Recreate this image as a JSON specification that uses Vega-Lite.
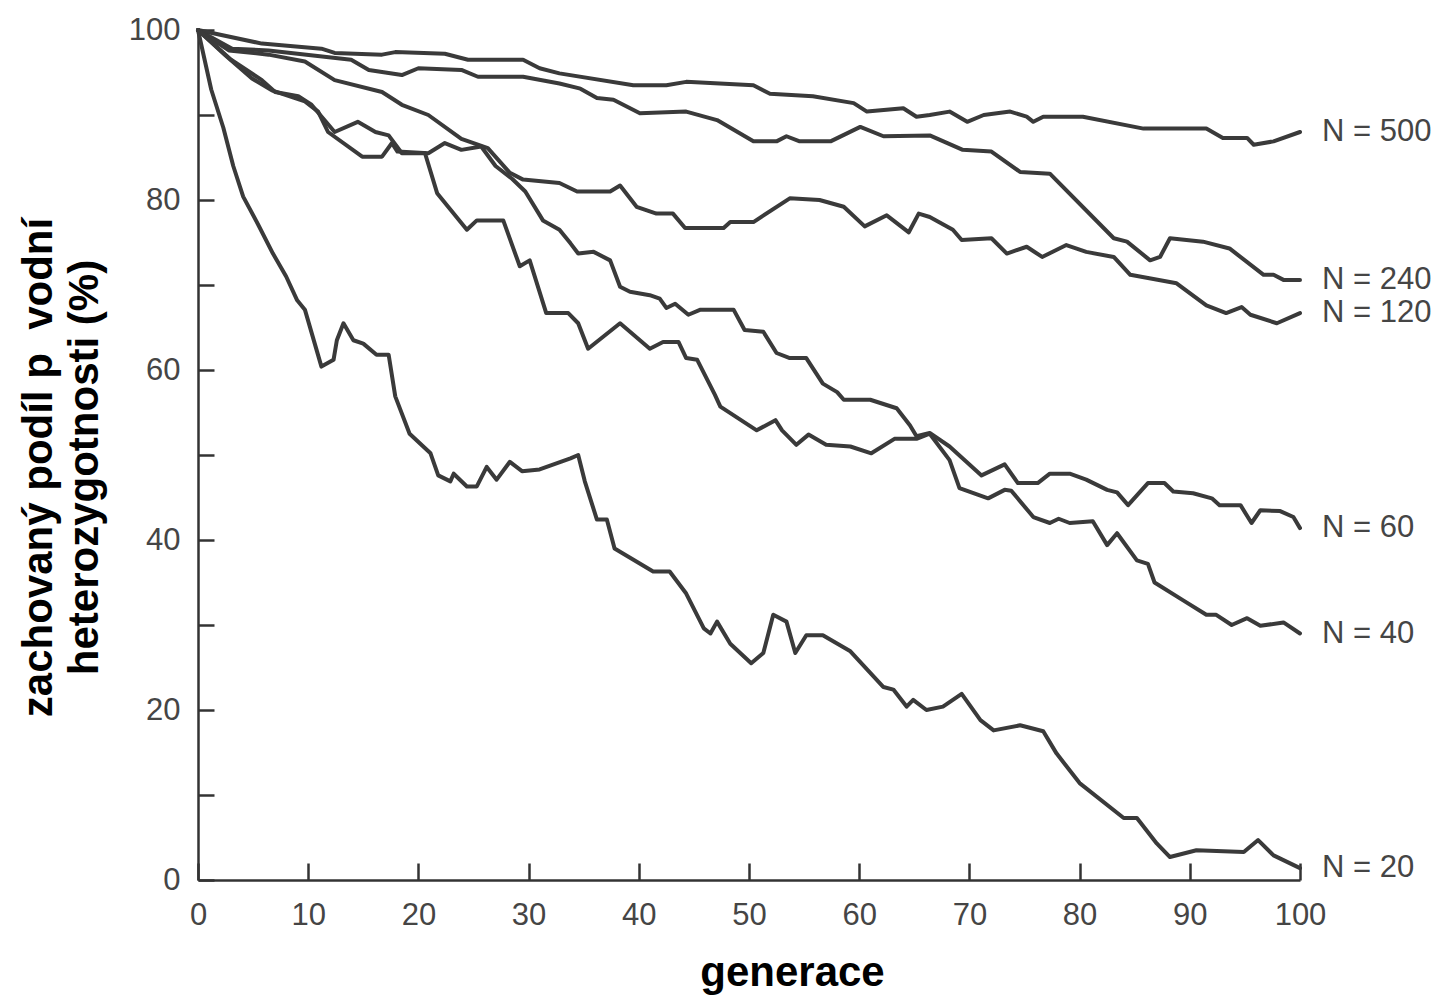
{
  "$schema": "https://vega.github.io/schema/vega-lite/v6.json",
  "autosize": {"type": "none"},
  "width": 1102,
  "height": 850,
  "padding": {"left": 198, "top": 30, "right": 152, "bottom": 117},
  "background": "#ffffff",
  "config": {"view": {"stroke": null}},
  "data": {"values": [
    {"N":"N = 500","gen":0,"het":100},{"N":"N = 500","gen":5.8,"het":98.4},{"N":"N = 500","gen":11.2,"het":97.8},{"N":"N = 500","gen":12.4,"het":97.3},{"N":"N = 500","gen":16.7,"het":97.1},{"N":"N = 500","gen":17.9,"het":97.4},{"N":"N = 500","gen":22.4,"het":97.2},{"N":"N = 500","gen":24.5,"het":96.5},{"N":"N = 500","gen":29.5,"het":96.5},{"N":"N = 500","gen":31,"het":95.5},{"N":"N = 500","gen":32.8,"het":94.9},{"N":"N = 500","gen":39.5,"het":93.5},{"N":"N = 500","gen":42.5,"het":93.5},{"N":"N = 500","gen":44.3,"het":93.9},{"N":"N = 500","gen":50.4,"het":93.5},{"N":"N = 500","gen":51.9,"het":92.5},{"N":"N = 500","gen":55.8,"het":92.2},{"N":"N = 500","gen":59.5,"het":91.4},{"N":"N = 500","gen":60.7,"het":90.4},{"N":"N = 500","gen":64,"het":90.8},{"N":"N = 500","gen":65.2,"het":89.8},{"N":"N = 500","gen":66.4,"het":90},{"N":"N = 500","gen":68.2,"het":90.4},{"N":"N = 500","gen":69.8,"het":89.2},{"N":"N = 500","gen":71.3,"het":90},{"N":"N = 500","gen":73.7,"het":90.4},{"N":"N = 500","gen":75.2,"het":89.8},{"N":"N = 500","gen":75.8,"het":89.2},{"N":"N = 500","gen":76.7,"het":89.8},{"N":"N = 500","gen":80.3,"het":89.8},{"N":"N = 500","gen":85.8,"het":88.4},{"N":"N = 500","gen":91.5,"het":88.4},{"N":"N = 500","gen":93,"het":87.3},{"N":"N = 500","gen":95.2,"het":87.3},{"N":"N = 500","gen":95.8,"het":86.5},{"N":"N = 500","gen":97.6,"het":86.9},{"N":"N = 500","gen":100,"het":88},

    {"N":"N = 240","gen":0,"het":100},{"N":"N = 240","gen":3.1,"het":97.8},{"N":"N = 240","gen":6.4,"het":97.6},{"N":"N = 240","gen":13.9,"het":96.5},{"N":"N = 240","gen":15.5,"het":95.3},{"N":"N = 240","gen":18.5,"het":94.7},{"N":"N = 240","gen":20,"het":95.5},{"N":"N = 240","gen":23.9,"het":95.3},{"N":"N = 240","gen":25.4,"het":94.5},{"N":"N = 240","gen":29.5,"het":94.5},{"N":"N = 240","gen":32.8,"het":93.7},{"N":"N = 240","gen":34.7,"het":93.1},{"N":"N = 240","gen":36.2,"het":92},{"N":"N = 240","gen":37.7,"het":91.8},{"N":"N = 240","gen":40.1,"het":90.2},{"N":"N = 240","gen":44.3,"het":90.4},{"N":"N = 240","gen":47.1,"het":89.4},{"N":"N = 240","gen":50.4,"het":86.9},{"N":"N = 240","gen":52.5,"het":86.9},{"N":"N = 240","gen":53.4,"het":87.5},{"N":"N = 240","gen":54.6,"het":86.9},{"N":"N = 240","gen":57.4,"het":86.9},{"N":"N = 240","gen":60.1,"het":88.6},{"N":"N = 240","gen":62.2,"het":87.5},{"N":"N = 240","gen":66.4,"het":87.6},{"N":"N = 240","gen":69.4,"het":85.9},{"N":"N = 240","gen":72,"het":85.7},{"N":"N = 240","gen":74.6,"het":83.3},{"N":"N = 240","gen":77.3,"het":83.1},{"N":"N = 240","gen":83.1,"het":75.5},{"N":"N = 240","gen":84.3,"het":75.1},{"N":"N = 240","gen":86.4,"het":72.9},{"N":"N = 240","gen":87.3,"het":73.3},{"N":"N = 240","gen":88.2,"het":75.5},{"N":"N = 240","gen":91.2,"het":75.1},{"N":"N = 240","gen":93.6,"het":74.3},{"N":"N = 240","gen":96.7,"het":71.2},{"N":"N = 240","gen":97.6,"het":71.2},{"N":"N = 240","gen":98.5,"het":70.6},{"N":"N = 240","gen":100,"het":70.6},

    {"N":"N = 120","gen":0,"het":100},{"N":"N = 120","gen":2.8,"het":97.6},{"N":"N = 120","gen":6.4,"het":97.1},{"N":"N = 120","gen":9.7,"het":96.3},{"N":"N = 120","gen":12.4,"het":94.1},{"N":"N = 120","gen":16.7,"het":92.7},{"N":"N = 120","gen":18.5,"het":91.2},{"N":"N = 120","gen":20.9,"het":90},{"N":"N = 120","gen":23.9,"het":87.2},{"N":"N = 120","gen":26.3,"het":86.1},{"N":"N = 120","gen":28.3,"het":83.2},{"N":"N = 120","gen":29.5,"het":82.4},{"N":"N = 120","gen":32.8,"het":82},{"N":"N = 120","gen":34.4,"het":81},{"N":"N = 120","gen":37.4,"het":81},{"N":"N = 120","gen":38.3,"het":81.7},{"N":"N = 120","gen":39.8,"het":79.2},{"N":"N = 120","gen":41.6,"het":78.4},{"N":"N = 120","gen":43.1,"het":78.4},{"N":"N = 120","gen":44.2,"het":76.7},{"N":"N = 120","gen":47.7,"het":76.7},{"N":"N = 120","gen":48.3,"het":77.4},{"N":"N = 120","gen":50.4,"het":77.4},{"N":"N = 120","gen":53.7,"het":80.2},{"N":"N = 120","gen":56.4,"het":80},{"N":"N = 120","gen":58.6,"het":79.2},{"N":"N = 120","gen":60.5,"het":76.9},{"N":"N = 120","gen":62.5,"het":78.2},{"N":"N = 120","gen":64.5,"het":76.2},{"N":"N = 120","gen":65.4,"het":78.4},{"N":"N = 120","gen":66.4,"het":78},{"N":"N = 120","gen":68.5,"het":76.5},{"N":"N = 120","gen":69.3,"het":75.3},{"N":"N = 120","gen":72,"het":75.5},{"N":"N = 120","gen":73.4,"het":73.7},{"N":"N = 120","gen":75.2,"het":74.5},{"N":"N = 120","gen":76.6,"het":73.3},{"N":"N = 120","gen":78.8,"het":74.7},{"N":"N = 120","gen":80.6,"het":73.9},{"N":"N = 120","gen":83.1,"het":73.3},{"N":"N = 120","gen":84.6,"het":71.2},{"N":"N = 120","gen":88.8,"het":70.2},{"N":"N = 120","gen":91.5,"het":67.6},{"N":"N = 120","gen":93.3,"het":66.7},{"N":"N = 120","gen":94.7,"het":67.4},{"N":"N = 120","gen":95.5,"het":66.5},{"N":"N = 120","gen":97.9,"het":65.5},{"N":"N = 120","gen":100,"het":66.7},

    {"N":"N = 60","gen":0,"het":100},{"N":"N = 60","gen":2.5,"het":97},{"N":"N = 60","gen":4.9,"het":94.3},{"N":"N = 60","gen":6.7,"het":92.9},{"N":"N = 60","gen":9.7,"het":91.6},{"N":"N = 60","gen":10.9,"het":90.4},{"N":"N = 60","gen":11.8,"het":88},{"N":"N = 60","gen":14.9,"het":85.1},{"N":"N = 60","gen":16.7,"het":85.1},{"N":"N = 60","gen":17.6,"het":86.7},{"N":"N = 60","gen":18.1,"het":85.7},{"N":"N = 60","gen":20.9,"het":85.5},{"N":"N = 60","gen":22.4,"het":86.7},{"N":"N = 60","gen":23.9,"het":85.9},{"N":"N = 60","gen":25.7,"het":86.3},{"N":"N = 60","gen":27,"het":84},{"N":"N = 60","gen":28.5,"het":82.5},{"N":"N = 60","gen":29.7,"het":81},{"N":"N = 60","gen":31.3,"het":77.6},{"N":"N = 60","gen":32.8,"het":76.5},{"N":"N = 60","gen":33.8,"het":74.9},{"N":"N = 60","gen":34.5,"het":73.7},{"N":"N = 60","gen":35.9,"het":73.9},{"N":"N = 60","gen":37.4,"het":72.9},{"N":"N = 60","gen":38.3,"het":69.8},{"N":"N = 60","gen":39.2,"het":69.2},{"N":"N = 60","gen":41,"het":68.8},{"N":"N = 60","gen":41.9,"het":68.4},{"N":"N = 60","gen":42.5,"het":67.3},{"N":"N = 60","gen":43.3,"het":67.8},{"N":"N = 60","gen":44.5,"het":66.5},{"N":"N = 60","gen":45.6,"het":67.1},{"N":"N = 60","gen":48.6,"het":67.1},{"N":"N = 60","gen":49.6,"het":64.7},{"N":"N = 60","gen":51.3,"het":64.5},{"N":"N = 60","gen":52.5,"het":62},{"N":"N = 60","gen":53.7,"het":61.4},{"N":"N = 60","gen":55.2,"het":61.4},{"N":"N = 60","gen":56.7,"het":58.4},{"N":"N = 60","gen":58,"het":57.4},{"N":"N = 60","gen":58.6,"het":56.5},{"N":"N = 60","gen":61,"het":56.5},{"N":"N = 60","gen":63.4,"het":55.5},{"N":"N = 60","gen":64.6,"het":53.5},{"N":"N = 60","gen":65.2,"het":52.2},{"N":"N = 60","gen":66.4,"het":52.6},{"N":"N = 60","gen":68.2,"het":51},{"N":"N = 60","gen":71.1,"het":47.6},{"N":"N = 60","gen":73.2,"het":48.9},{"N":"N = 60","gen":74.4,"het":46.7},{"N":"N = 60","gen":76.2,"het":46.7},{"N":"N = 60","gen":77.3,"het":47.8},{"N":"N = 60","gen":79.1,"het":47.8},{"N":"N = 60","gen":80.6,"het":47.1},{"N":"N = 60","gen":82.5,"het":45.9},{"N":"N = 60","gen":83.4,"het":45.6},{"N":"N = 60","gen":84.4,"het":44.1},{"N":"N = 60","gen":86.2,"het":46.7},{"N":"N = 60","gen":87.7,"het":46.7},{"N":"N = 60","gen":88.5,"het":45.7},{"N":"N = 60","gen":90.3,"het":45.5},{"N":"N = 60","gen":92,"het":44.9},{"N":"N = 60","gen":92.7,"het":44.1},{"N":"N = 60","gen":94.6,"het":44.1},{"N":"N = 60","gen":95.6,"het":42},{"N":"N = 60","gen":96.4,"het":43.5},{"N":"N = 60","gen":98.2,"het":43.4},{"N":"N = 60","gen":99.4,"het":42.7},{"N":"N = 60","gen":100,"het":41.4},

    {"N":"N = 40","gen":0,"het":100},{"N":"N = 40","gen":3,"het":96.5},{"N":"N = 40","gen":5.8,"het":94.1},{"N":"N = 40","gen":7,"het":92.7},{"N":"N = 40","gen":9.1,"het":92.2},{"N":"N = 40","gen":10.3,"het":91.2},{"N":"N = 40","gen":12.4,"het":88},{"N":"N = 40","gen":14.5,"het":89.2},{"N":"N = 40","gen":16.1,"het":88},{"N":"N = 40","gen":17.3,"het":87.6},{"N":"N = 40","gen":18.5,"het":85.5},{"N":"N = 40","gen":20.6,"het":85.5},{"N":"N = 40","gen":21.7,"het":80.8},{"N":"N = 40","gen":24.4,"het":76.5},{"N":"N = 40","gen":25.3,"het":77.6},{"N":"N = 40","gen":27.7,"het":77.6},{"N":"N = 40","gen":29.2,"het":72.2},{"N":"N = 40","gen":30.1,"het":72.9},{"N":"N = 40","gen":31.6,"het":66.7},{"N":"N = 40","gen":33.6,"het":66.7},{"N":"N = 40","gen":34.5,"het":65.5},{"N":"N = 40","gen":35.4,"het":62.5},{"N":"N = 40","gen":38.3,"het":65.5},{"N":"N = 40","gen":41,"het":62.5},{"N":"N = 40","gen":42.2,"het":63.3},{"N":"N = 40","gen":43.6,"het":63.3},{"N":"N = 40","gen":44.3,"het":61.4},{"N":"N = 40","gen":45.3,"het":61.2},{"N":"N = 40","gen":46.9,"het":57.1},{"N":"N = 40","gen":47.4,"het":55.7},{"N":"N = 40","gen":50.7,"het":52.9},{"N":"N = 40","gen":52.4,"het":54.1},{"N":"N = 40","gen":53,"het":52.9},{"N":"N = 40","gen":54.3,"het":51.2},{"N":"N = 40","gen":55.4,"het":52.4},{"N":"N = 40","gen":57,"het":51.2},{"N":"N = 40","gen":59.2,"het":51},{"N":"N = 40","gen":61.1,"het":50.2},{"N":"N = 40","gen":63.2,"het":51.9},{"N":"N = 40","gen":65.2,"het":51.9},{"N":"N = 40","gen":66.4,"het":52.5},{"N":"N = 40","gen":68.2,"het":49.4},{"N":"N = 40","gen":69.1,"het":46.1},{"N":"N = 40","gen":71.7,"het":44.9},{"N":"N = 40","gen":73.2,"het":45.9},{"N":"N = 40","gen":73.8,"het":45.8},{"N":"N = 40","gen":75.8,"het":42.7},{"N":"N = 40","gen":77.3,"het":42},{"N":"N = 40","gen":78.1,"het":42.5},{"N":"N = 40","gen":79.1,"het":42},{"N":"N = 40","gen":81.2,"het":42.2},{"N":"N = 40","gen":82.5,"het":39.4},{"N":"N = 40","gen":83.4,"het":40.8},{"N":"N = 40","gen":85.2,"het":37.6},{"N":"N = 40","gen":86.2,"het":37.2},{"N":"N = 40","gen":86.8,"het":35},{"N":"N = 40","gen":89.4,"het":32.9},{"N":"N = 40","gen":91.5,"het":31.2},{"N":"N = 40","gen":92.4,"het":31.2},{"N":"N = 40","gen":93.8,"het":30},{"N":"N = 40","gen":95.2,"het":30.8},{"N":"N = 40","gen":96.4,"het":29.9},{"N":"N = 40","gen":98.5,"het":30.3},{"N":"N = 40","gen":100,"het":29},

    {"N":"N = 20","gen":0,"het":100},{"N":"N = 20","gen":1.2,"het":93},{"N":"N = 20","gen":2.3,"het":88.5},{"N":"N = 20","gen":3.2,"het":84},{"N":"N = 20","gen":4.1,"het":80.4},{"N":"N = 20","gen":5.5,"het":77},{"N":"N = 20","gen":6.8,"het":73.7},{"N":"N = 20","gen":8,"het":71},{"N":"N = 20","gen":9,"het":68.2},{"N":"N = 20","gen":9.7,"het":67.1},{"N":"N = 20","gen":11.2,"het":60.4},{"N":"N = 20","gen":12.3,"het":61.2},{"N":"N = 20","gen":12.6,"het":63.5},{"N":"N = 20","gen":13.2,"het":65.5},{"N":"N = 20","gen":14.1,"het":63.5},{"N":"N = 20","gen":15,"het":63.1},{"N":"N = 20","gen":16.2,"het":61.8},{"N":"N = 20","gen":17.3,"het":61.8},{"N":"N = 20","gen":17.9,"het":56.9},{"N":"N = 20","gen":19.2,"het":52.5},{"N":"N = 20","gen":21.1,"het":50.2},{"N":"N = 20","gen":21.8,"het":47.6},{"N":"N = 20","gen":22.9,"het":46.9},{"N":"N = 20","gen":23.2,"het":47.8},{"N":"N = 20","gen":24.4,"het":46.3},{"N":"N = 20","gen":25.3,"het":46.3},{"N":"N = 20","gen":26.2,"het":48.6},{"N":"N = 20","gen":27.1,"het":47.1},{"N":"N = 20","gen":28.3,"het":49.2},{"N":"N = 20","gen":29.4,"het":48.1},{"N":"N = 20","gen":31,"het":48.3},{"N":"N = 20","gen":33.8,"het":49.6},{"N":"N = 20","gen":34.5,"het":50},{"N":"N = 20","gen":35.1,"het":46.9},{"N":"N = 20","gen":36.2,"het":42.4},{"N":"N = 20","gen":37.1,"het":42.4},{"N":"N = 20","gen":37.8,"het":39},{"N":"N = 20","gen":41.3,"het":36.3},{"N":"N = 20","gen":42.8,"het":36.3},{"N":"N = 20","gen":44.3,"het":33.7},{"N":"N = 20","gen":45.9,"het":29.6},{"N":"N = 20","gen":46.5,"het":29},{"N":"N = 20","gen":47.1,"het":30.4},{"N":"N = 20","gen":48.3,"het":27.8},{"N":"N = 20","gen":50.2,"het":25.5},{"N":"N = 20","gen":51.3,"het":26.7},{"N":"N = 20","gen":52.2,"het":31.2},{"N":"N = 20","gen":53.4,"het":30.4},{"N":"N = 20","gen":54.2,"het":26.7},{"N":"N = 20","gen":55.2,"het":28.8},{"N":"N = 20","gen":56.7,"het":28.8},{"N":"N = 20","gen":59.2,"het":26.9},{"N":"N = 20","gen":62.2,"het":22.7},{"N":"N = 20","gen":63.1,"het":22.4},{"N":"N = 20","gen":64.3,"het":20.4},{"N":"N = 20","gen":64.9,"het":21.2},{"N":"N = 20","gen":66.1,"het":20},{"N":"N = 20","gen":67.6,"het":20.4},{"N":"N = 20","gen":69.3,"het":21.9},{"N":"N = 20","gen":71,"het":18.8},{"N":"N = 20","gen":72.2,"het":17.6},{"N":"N = 20","gen":74.6,"het":18.2},{"N":"N = 20","gen":76.7,"het":17.5},{"N":"N = 20","gen":77.9,"het":14.9},{"N":"N = 20","gen":80,"het":11.4},{"N":"N = 20","gen":84,"het":7.3},{"N":"N = 20","gen":85.2,"het":7.3},{"N":"N = 20","gen":87,"het":4.3},{"N":"N = 20","gen":88.2,"het":2.7},{"N":"N = 20","gen":90.6,"het":3.5},{"N":"N = 20","gen":94.9,"het":3.3},{"N":"N = 20","gen":96.2,"het":4.7},{"N":"N = 20","gen":97.6,"het":2.9},{"N":"N = 20","gen":100,"het":1.4}
  ]},
  "encoding": {
    "x": {
      "field": "gen", "type": "quantitative",
      "scale": {"domain": [0, 100], "nice": false, "zero": false},
      "axis": {
        "values": [0,10,20,30,40,50,60,70,80,90,100],
        "grid": false, "tickSize": -17, "tickWidth": 2.5, "tickColor": "#333333",
        "domainColor": "#333333", "domainWidth": 2.5,
        "labelFont": "Liberation Sans", "labelFontSize": 31, "labelColor": "#454545",
        "labelPadding": 37, "labelFlush": false, "labelOverlap": false, "labelBaseline": "top",
        "title": "generace", "titleFont": "Liberation Sans", "titleFontSize": 42, "titleFontWeight": "bold",
        "titleColor": "#000000", "titleX": 594, "titleY": 105, "titleAlign": "center", "titleBaseline": "alphabetic"
      }
    },
    "y": {
      "field": "het", "type": "quantitative",
      "scale": {"domain": [0, 100], "nice": false, "zero": false},
      "axis": {
        "values": [0,10,20,30,40,50,60,70,80,90,100],
        "labelExpr": "datum.value % 20 == 0 ? datum.label : ''",
        "grid": false, "tickSize": -16, "tickWidth": 2.5, "tickColor": "#333333",
        "domainColor": "#333333", "domainWidth": 2.5,
        "labelFont": "Liberation Sans", "labelFontSize": 31, "labelColor": "#454545",
        "labelPadding": 34, "labelFlush": false, "labelOverlap": false,
        "title": ["zachovaný podíl p\u00a0\u00a0vodní", "heterozygotnosti (%)"],
        "titleFont": "Liberation Sans", "titleFontSize": 42, "titleFontWeight": "bold", "titleColor": "#000000",
        "titleLineHeight": 46, "titleAngle": -90, "titleX": -160, "titleY": 437,
        "titleAlign": "center", "titleBaseline": "middle"
      }
    }
  },
  "layer": [
    {
      "mark": {"type": "line", "color": "#3a3a3a", "strokeWidth": 4, "strokeJoin": "round", "strokeCap": "round"},
      "encoding": {"detail": {"field": "N", "type": "nominal"}}
    },
    {
      "transform": [{"filter": "datum.gen == 100"}],
      "mark": {"type": "text", "align": "left", "baseline": "middle", "dx": 22, "font": "Liberation Sans", "fontSize": 31, "color": "#454545"},
      "encoding": {"text": {"field": "N", "type": "nominal"}}
    }
  ]
}
